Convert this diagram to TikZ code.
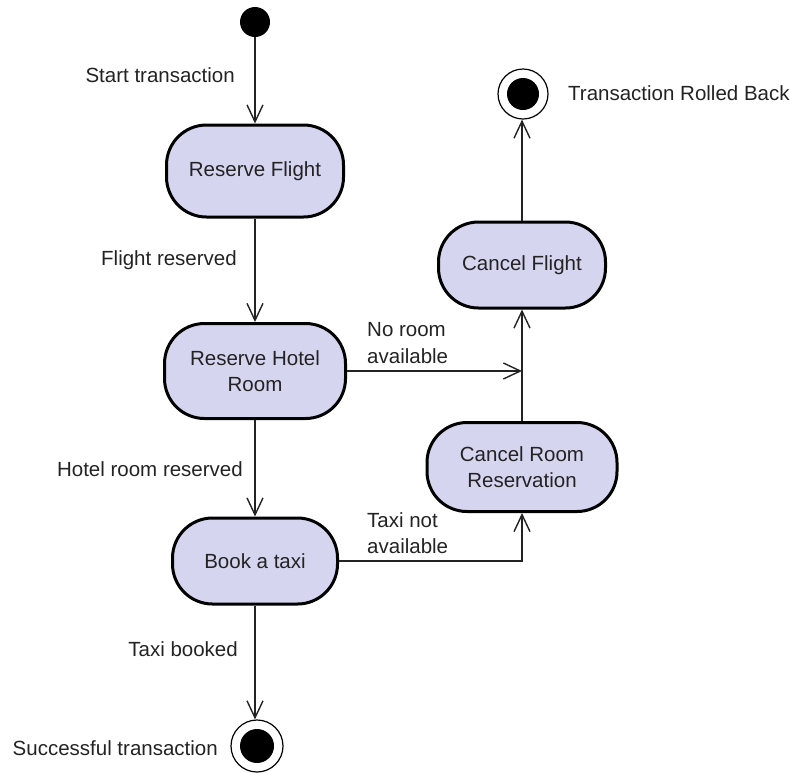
\documentclass[tikz,border=0pt]{standalone}
\usepackage{fontspec}
\setmainfont{Liberation Sans}
\usetikzlibrary{arrows.meta,calc}
\definecolor{actfill}{RGB}{213,213,240}
\definecolor{ink}{RGB}{35,35,35}
\begin{document}
\begin{tikzpicture}[x=1pt,y=-1pt,
  font=\fontsize{20.5}{26}\selectfont,
  act/.style={draw=black, line width=3pt, fill=actfill, rounded corners=40pt, align=center, inner sep=0pt, text=ink},
  conn/.style={draw=ink, line width=1.4pt, -{Straight Barb[length=17pt,width=16pt,line width=1.4pt]}},
  lbl/.style={inner sep=0pt, text=ink},
  ring/.style={circle, draw=black, line width=1.2pt, fill=white, inner sep=0pt},
  dot/.style={circle, fill=black, inner sep=0pt},
]
\useasboundingbox (0,0) rectangle (792,772);

% activities
\node[act, minimum width=177pt, minimum height=92pt] (rf) at (255,171) {Reserve Flight};
\node[act, minimum width=181pt, minimum height=95pt] (rh) at (255,371) {Reserve Hotel\\Room};
\node[act, minimum width=165pt, minimum height=86pt] (bt) at (255,561) {Book a taxi};
\node[act, minimum width=190pt, minimum height=89pt] (cr) at (522,467) {Cancel Room\\Reservation};
\node[act, minimum width=167pt, minimum height=86pt] (cf) at (522,265) {Cancel Flight};

% initial and final states
\node[dot, minimum size=30pt] (start) at (255,22) {};
\node[ring, minimum size=50pt] (endt) at (523,94) {};
\node[dot, minimum size=32pt] (endtdot) at (endt) {};
\node[ring, minimum size=52pt] (endb) at (257,746) {};
\node[dot, minimum size=34pt] (endbdot) at (endb) {};

% connectors
\draw[conn] (start) -- (rf);
\draw[conn] (rf) -- (rh);
\draw[conn] (rh) -- (bt);
\draw[conn] (bt.south) -- (bt.south |- endb.north);
\draw[conn] (cr) -- (cf);
\draw[conn] (cf.north) -- (cf.north |- endt.south);
\coordinate (j1) at (rh.east -| cf.south);
\draw[conn] (rh.east) -- (j1);
\draw[conn] (bt.east) -| (cr.south);

% labels
\node[lbl, anchor=base east] (l1) at (235,82) {Start transaction};
\node[lbl, anchor=base east] (l2) at (237,265) {Flight reserved};
\node[lbl, anchor=base east] (l3) at (243,476) {Hotel room reserved};
\node[lbl, anchor=base east] (l4) at (238,656) {Taxi booked};
\node[lbl, anchor=base east] (l5) at (218,755) {Successful transaction};
\node[lbl, anchor=base west] (l6) at (568,100) {Transaction Rolled Back};
\node[lbl, anchor=north west, align=left] (l7) at (367,322) {No room\\[1pt]available};
\node[lbl, anchor=north west, align=left] (l8) at (367,512) {Taxi not\\available};
\end{tikzpicture}
\end{document}
